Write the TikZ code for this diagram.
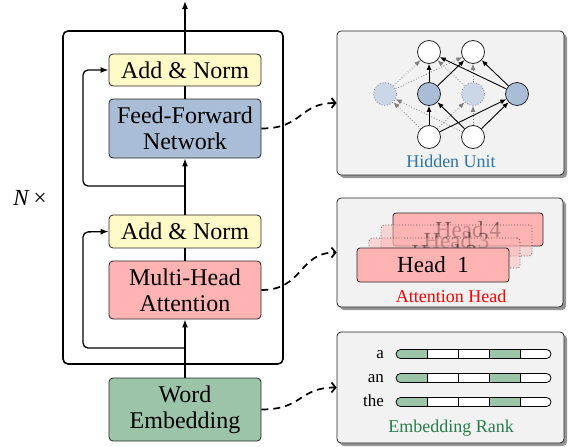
\documentclass[tikz,border=0pt]{standalone}
\usepackage{fontspec}
\setmainfont{Liberation Serif}
\usetikzlibrary{arrows.meta,shadows}
\definecolor{normY}{RGB}{255,250,200}
\definecolor{ffnB}{RGB}{169,189,214}
\definecolor{mhaR}{RGB}{255,179,179}
\definecolor{embG}{RGB}{156,196,168}
\definecolor{panelG}{RGB}{242,242,242}
\definecolor{hidT}{RGB}{46,117,170}
\definecolor{embT}{RGB}{40,125,75}
\begin{document}
\begin{tikzpicture}[x=1pt,y=-1pt,
  block/.style={draw=black!85, line width=0.8pt, rounded corners=4pt, minimum width=152pt,
    align=center, inner sep=0pt, font=\fontsize{24}{26}\selectfont},
  arr/.style={-{Latex[length=8pt,width=6pt]}, line width=1.3pt},
  plain/.style={line width=1.3pt},
  panel/.style={draw=black!85, line width=0.8pt, fill=panelG, rounded corners=4pt, inner sep=0pt,
    drop shadow={shadow xshift=3pt, shadow yshift=-3pt, fill=black!60, opacity=0.7}},
  conn/.style={line width=1.7pt, dash pattern=on 7pt off 5pt, -{Straight Barb[length=4pt,width=10pt]}},
  circ/.style={circle, draw=black!85, line width=0.8pt, fill=white, minimum size=23pt, inner sep=0pt},
  hcirc/.style={circ, fill=ffnB},
  fcirc/.style={circle, draw=gray, dotted, line width=0.8pt, fill=ffnB!60, minimum size=23pt, inner sep=0pt},
  sarr/.style={-{Latex[length=6pt,width=5pt]}, line width=0.9pt},
  garr/.style={-{Latex[length=6pt,width=5pt]}, line width=0.8pt, draw=gray, dotted},
  headbox/.style={draw=black!85, line width=0.8pt, fill=mhaR, rounded corners=3pt, inner sep=0pt,
    font=\fontsize{23}{24}\selectfont},
  caption/.style={font=\fontsize{18}{20}\selectfont},
  wlabel/.style={font=\fontsize{17}{18}\selectfont, anchor=base east, inner sep=0pt}
]
\useasboundingbox (0,0) rectangle (571,447);

% big frame
\draw[line width=1.6pt, rounded corners=5pt] (63,31) rectangle (283,364);

% main blocks
\node[block, fill=normY, minimum height=32pt] (addtop) at (185,70) {Add \& Norm};
\node[block, fill=ffnB, minimum height=59pt] (ffn) at (185,128.5) {Feed-Forward\\Network};
\node[block, fill=normY, minimum height=33pt] (addbot) at (185,231.5) {Add \& Norm};
\node[block, fill=mhaR, minimum height=58pt] (mha) at (185,290) {Multi-Head\\Attention};
\node[block, fill=embG, minimum height=63pt] (we) at (185,409.5) {Word\\Embedding};

\coordinate (out) at (185,1);
\coordinate (r1) at (185,186);
\coordinate (r1c) at (83,70);
\coordinate (r2) at (185,348);
\coordinate (r2c) at (83,232);

\draw[arr] (addtop.north) -- (out);
\draw[plain] (ffn.north) -- (addtop.south);
\draw[arr] (addbot.north) -- (ffn.south);
\draw[plain] (mha.north) -- (addbot.south);
\draw[arr] (we.north) -- (mha.south);
\draw[arr, rounded corners=5pt] (r1) -| (r1c) -- (addtop.west);
\draw[arr, rounded corners=5pt] (r2) -| (r2c) -- (addbot.west);

\node[font=\fontsize{23}{24}\selectfont, anchor=base] (nx) at (30,205) {\textit{N}\,×};

% panels
\node[panel, minimum width=227pt, minimum height=144pt] (p1) at (450.5,103) {};
\node[panel, minimum width=226pt, minimum height=109pt] (p2) at (450,252.5) {};
\node[panel, minimum width=227pt, minimum height=111pt] (p3) at (450.5,387.5) {};

% hidden unit panel
\node[circ] (t1) at (429,52) {};
\node[circ] (t2) at (473,52) {};
\node[fcirc] (h1) at (385,94) {};
\node[hcirc] (h2) at (429,94) {};
\node[fcirc] (h3) at (473,94) {};
\node[hcirc] (h4) at (517,94) {};
\node[circ] (b1) at (429,137) {};
\node[circ] (b2) at (473,137) {};
\foreach \s/\t in {b1/h1,b2/h1,b1/h3,b2/h3,h1/t1,h1/t2,h3/t1,h3/t2}
  \draw[garr] (\s) -- (\t);
\foreach \s/\t in {b1/h2,b2/h2,b1/h4,b2/h4,h2/t1,h2/t2,h4/t1,h4/t2}
  \draw[sarr] (\s) -- (\t);
\node[caption, text=hidT] (cap1) at (451,161) {Hidden Unit};

% attention head panel
\node[headbox, minimum width=150pt, minimum height=33pt, text opacity=0.5] (hd4) at (468,229.5) {Head 4};
\node[headbox, minimum width=151pt, minimum height=31pt, dotted, draw opacity=0.8, fill opacity=0.45, text opacity=0.45] (hd3) at (456.5,240.5) {Head 3};
\node[headbox, minimum width=151pt, minimum height=30pt, dotted, draw opacity=0.8, fill opacity=0.45, text opacity=0.45] (hd2) at (444.5,253) {Head 2};
\node[headbox, minimum width=152pt, minimum height=34pt] (hd1) at (433,265) {Head\enspace1};
\node[caption, text=red] (cap2) at (451,296) {Attention Head};

% embedding rank panel
\foreach \y/\w [count=\i] in {354/a,378/an,402/the}{
  \node[wlabel] (w\i) at (384,\y+4.5) {\w};
  \begin{scope}
    \clip[rounded corners=4.5pt] (396,\y-4.5) rectangle (551,\y+4.5);
    \fill[white] (396,\y-4.5) rectangle (551,\y+4.5);
    \fill[embG] (396,\y-4.5) rectangle (427,\y+4.5);
    \fill[embG] (489,\y-4.5) rectangle (520,\y+4.5);
  \end{scope}
  \draw[line width=0.8pt, rounded corners=4.5pt] (396,\y-4.5) rectangle (551,\y+4.5);
  \foreach \x in {427,458,489,520}
    \draw[line width=0.8pt] (\x,\y-4.5) -- (\x,\y+4.5);
}
\node[caption, text=embT] (cap3) at (451,428) {Embedding Rank};

% connectors
\draw[conn] (ffn.east) .. controls +(42,0) and +(-38,0) .. (p1.west);
\draw[conn] (mha.east) .. controls +(42,0) and +(-38,0) .. (p2.west);
\draw[conn] (we.east) .. controls +(42,0) and +(-38,0) .. (p3.west);
\end{tikzpicture}
\end{document}
